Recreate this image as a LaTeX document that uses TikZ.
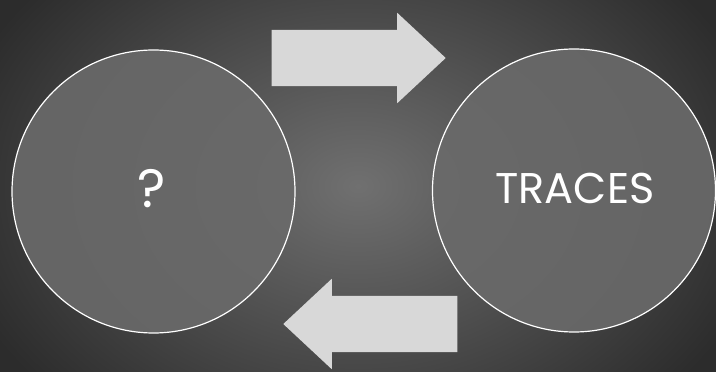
\documentclass[tikz,border=0pt]{standalone}
\usepackage{fontspec}
\setmainfont{Poppins}
\usepackage{xcolor}
\usepackage{tikz}
\usetikzlibrary{shapes,arrows,positioning}

\definecolor{bgdark}{HTML}{2C2C2C}
\definecolor{bglight}{HTML}{707070}
\definecolor{discfill}{HTML}{6A6A6A}
\definecolor{arrowfill}{HTML}{D8D8D8}

\begin{document}
\begin{tikzpicture}[x=1pt, y=1pt,
    stage/.style={circle, draw=white, line width=1.2pt, fill=discfill, fill opacity=0.9, text opacity=1, minimum size=283pt, inner sep=0pt},
    label/.style={text=white, font=\fontsize{43}{46}\selectfont},
    flowarrow/.style={single arrow, draw=none, fill=arrowfill, minimum height=174pt, inner xsep=0pt, inner ysep=28pt, single arrow head extend=17pt, single arrow tip angle=86}
]

% Background
\useasboundingbox (0,0) rectangle (716,372);
\shade[inner color=bglight, outer color=bgdark] (-60,-120) rectangle (776,492);

% Circles
\node[stage] (unknown) at (153.5, 180.5) {};
\node[stage] (traces) at (574, 181.5) {};

% Texts
\node[label, font=\fontsize{54}{58}\selectfont] (qmark) at (152, 183) {?};
\node[label] (tracestext) at (575, 184) {TRACES};

% Arrows (placed by their tips)
\node[flowarrow, anchor=tip] (fwd) at (446, 314) {};
\node[flowarrow, shape border rotate=180, anchor=tip] (back) at (283, 48) {};

\end{tikzpicture}
\end{document}
